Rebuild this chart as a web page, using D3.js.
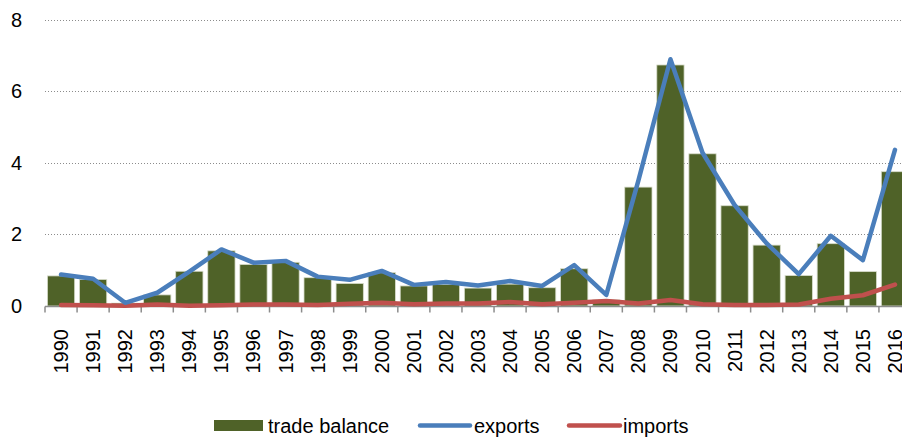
<!DOCTYPE html>
<html>
<head>
<meta charset="utf-8">
<script src="https://cdn.jsdelivr.net/npm/d3@7"></script>
<style>
  body { margin: 0; background: #fff; }
  svg text { font-family: "Liberation Sans", Arial, sans-serif; fill: #000; }
</style>
</head>
<body>
<div id="chart"></div>
<script>
// data
const years = ["1990","1991","1992","1993","1994","1995","1996","1997","1998","1999",
  "2000","2001","2002","2003","2004","2005","2006","2007","2008","2009",
  "2010","2011","2012","2013","2014","2015","2016"];
const tradeBalance = [0.84, 0.74, 0.08, 0.31, 0.97, 1.54, 1.16, 1.22, 0.79, 0.63,
  0.93, 0.56, 0.6, 0.5, 0.61, 0.51, 1.04, 0.17, 3.32, 6.73,
  4.25, 2.8, 1.7, 0.85, 1.74, 0.96, 3.75];
const exports = [0.88, 0.76, 0.09, 0.37, 0.96, 1.58, 1.21, 1.26, 0.82, 0.73,
  0.98, 0.59, 0.67, 0.57, 0.7, 0.56, 1.14, 0.31, 3.5, 6.89,
  4.28, 2.82, 1.75, 0.89, 1.96, 1.28, 4.36];
const imports = [0.03, 0.02, 0.01, 0.04, 0.01, 0.02, 0.04, 0.04, 0.03, 0.06,
  0.09, 0.05, 0.07, 0.07, 0.11, 0.05, 0.09, 0.14, 0.07, 0.17,
  0.05, 0.03, 0.03, 0.04, 0.2, 0.3, 0.6];
const yTicks = [0, 2, 4, 6, 8];
const legendItems = ["trade balance", "exports", "imports"];

const width = 902, height = 439;
const margin = { top: 19.5, bottom: 133, left: 45 };
const plotRight = 911; // the original chart is cut off on the right

const svg = d3.select("#chart").append("svg")
  .attr("width", width).attr("height", height)
  .attr("viewBox", [0, 0, width, height]);

const x = d3.scaleBand().domain(years).range([margin.left, plotRight]).paddingInner(0.15).paddingOuter(0.075);
const y = d3.scaleLinear().domain([0, 8]).range([height - margin.bottom, margin.top]);

// dotted gridlines
svg.append("g")
  .selectAll("line")
  .data(yTicks.filter(d => d > 0))
  .join("line")
  .attr("x1", margin.left).attr("x2", width)
  .attr("y1", d => Math.round(y(d)) + 0.5).attr("y2", d => Math.round(y(d)) + 0.5)
  .attr("stroke", "#8c8c8c")
  .attr("stroke-dasharray", "1,2");

// y labels
svg.append("g")
  .selectAll("text")
  .data(yTicks)
  .join("text")
  .attr("x", 22)
  .attr("y", d => y(d))
  .attr("dy", "0.35em")
  .attr("text-anchor", "end")
  .attr("font-size", 20)
  .text(d => d);

// bars
svg.append("g")
  .selectAll("rect")
  .data(years)
  .join("rect")
  .attr("x", d => x(d))
  .attr("width", x.bandwidth())
  .attr("y", (d, i) => y(tradeBalance[i]))
  .attr("height", (d, i) => y(0) - y(tradeBalance[i]))
  .attr("fill", "#4f6228")
  .attr("stroke", "#d7dccb")
  .attr("stroke-width", 0.8);

// x axis with ticks at band edges
const x0 = Math.round(y(0)) + 0.5;
const step = x.step();
const axis = svg.append("g");
axis.append("line")
  .attr("x1", margin.left).attr("x2", width)
  .attr("y1", x0).attr("y2", x0)
  .attr("stroke", "#8c8c8c").attr("stroke-width", 1.5);
axis.selectAll("line.tick")
  .data(d3.range(years.length + 1))
  .join("line")
  .attr("class", "tick")
  .attr("x1", i => margin.left + i * step).attr("x2", i => margin.left + i * step)
  .attr("y1", x0).attr("y2", x0 + 6)
  .attr("stroke", "#8c8c8c").attr("stroke-width", 1.5);

axis.selectAll("text")
  .data(years)
  .join("text")
  .attr("transform", d => `translate(${x(d) + x.bandwidth() / 2},${y(0) + 23}) rotate(-90)`)
  .attr("text-anchor", "end")
  .attr("dy", "0.35em")
  .attr("font-size", 20)
  .text(d => d);

// lines
const line = d3.line()
  .x((d, i) => x(years[i]) + x.bandwidth() / 2)
  .y(d => y(d));

svg.append("path")
  .datum(imports)
  .attr("d", line)
  .attr("fill", "none")
  .attr("stroke", "#c0504d")
  .attr("stroke-width", 4.5)
  .attr("stroke-linejoin", "round")
  .attr("stroke-linecap", "round");

svg.append("path")
  .datum(exports)
  .attr("d", line)
  .attr("fill", "none")
  .attr("stroke", "#4a7ebb")
  .attr("stroke-width", 4.5)
  .attr("stroke-linejoin", "round")
  .attr("stroke-linecap", "round");

// legend
const legendY = 425.5;
const leg = svg.append("g");
leg.append("rect")
  .attr("x", 214).attr("y", 420).attr("width", 49).attr("height", 11)
  .attr("fill", "#4f6228");
leg.append("text").attr("x", 268).attr("y", legendY).attr("dy", "0.35em")
  .attr("font-size", 20).text(legendItems[0]);

leg.append("line")
  .attr("x1", 420).attr("x2", 470).attr("y1", legendY).attr("y2", legendY)
  .attr("stroke", "#4a7ebb").attr("stroke-width", 4.5).attr("stroke-linecap", "round");
leg.append("text").attr("x", 474).attr("y", legendY).attr("dy", "0.35em")
  .attr("font-size", 20).text(legendItems[1]);

leg.append("line")
  .attr("x1", 569).attr("x2", 620).attr("y1", legendY).attr("y2", legendY)
  .attr("stroke", "#c0504d").attr("stroke-width", 4.5).attr("stroke-linecap", "round");
leg.append("text").attr("x", 623).attr("y", legendY).attr("dy", "0.35em")
  .attr("font-size", 20).text(legendItems[2]);
</script>
</body>
</html>
